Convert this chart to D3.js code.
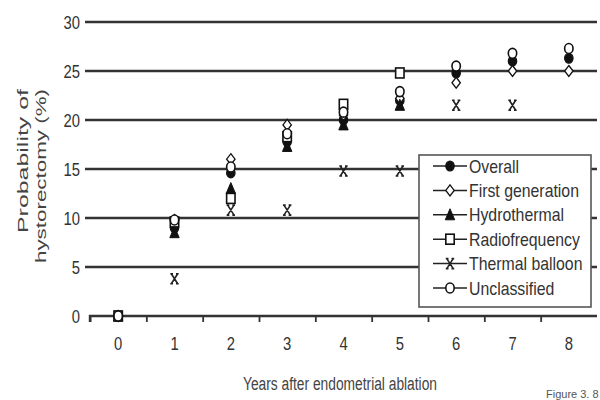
<!DOCTYPE html>
<html><head><meta charset="utf-8">
<script src="https://cdn.jsdelivr.net/npm/d3@7"></script>
<style>body{margin:0;background:#fff}</style>
</head><body>
<svg id="c" width="600" height="400"></svg>
<script>
const years = [0,1,2,3,4,5,6,7,8];
const yTicks = [0,5,10,15,20,25,30];
const seriesNames = ["Overall","First generation","Hydrothermal","Radiofrequency","Thermal balloon","Unclassified"];
const overall      = [0, 9.0, 14.6, 17.8, 20.0, 22.0, 24.8, 26.0, 26.3];
const firstGen     = [0, 9.8, 16.0, 19.5, 20.5, 22.2, 23.8, 25.0, 25.0];
const hydrothermal = [0, 8.5, 13.0, 17.3, 19.5, 21.5, null, null, null];
const radiofreq    = [0, 9.6, 12.0, 18.3, 21.6, 24.8, null, null, null];
const thermal      = [0, 3.8, 10.8, 10.8, 14.8, 14.8, 21.5, 21.5, null];
const unclassified = [0, 9.8, 15.2, 18.6, 20.8, 22.9, 25.5, 26.8, 27.3];
const allSeries = [overall, firstGen, hydrothermal, radiofreq, thermal, unclassified];
const markerTypes = ["fcircle","diamond","triangle","square","xstar","ocircle"];

const svg = d3.select("#c");
const x = d3.scaleLinear().domain([-0.5, 8.5]).range([90, 597]);
const y = d3.scaleLinear().domain([0, 30]).range([316, 22]);
const font = "'Liberation Sans',Arial,sans-serif";
const ink = "#333";

// gridlines
svg.append("g").selectAll("line").data(yTicks.filter(d=>d>0)).join("line")
  .attr("x1", 85).attr("x2", 597).attr("y1", d=>y(d)).attr("y2", d=>y(d))
  .attr("stroke", ink).attr("stroke-width", 2.4);

// x axis baseline with ticks between categories
const xAxis = d3.axisBottom(x).tickValues(d3.range(-0.5, 8, 1)).tickSize(6).tickFormat("");
const gx = svg.append("g").attr("transform", `translate(0,${y(0)})`).call(xAxis);
gx.select(".domain").attr("d", `M${x(-0.5)},6V0H597`).attr("stroke", ink).attr("stroke-width", 2.4).attr("fill","none");
gx.selectAll(".tick line").attr("stroke", ink).attr("stroke-width", 1.8);

// x labels (narrow, tall glyphs)
svg.append("g").selectAll("text").data(years).join("text")
  .attr("transform", d=>`translate(${x(d)},350) scale(0.78,1)`).attr("text-anchor","middle")
  .attr("font-family", font).attr("font-size", 19).attr("fill", ink).text(d=>d);

// y labels
svg.append("g").selectAll("text").data(yTicks).join("text")
  .attr("transform", d=>`translate(80,${y(d)+7}) scale(0.78,1)`).attr("text-anchor","end")
  .attr("font-family", font).attr("font-size", 19).attr("fill", ink).text(d=>d);

// axis titles
svg.append("text").attr("transform","translate(28,89) rotate(-90)").attr("text-anchor","end")
  .attr("textLength", 144).attr("lengthAdjust","spacingAndGlyphs")
  .attr("font-family", font).attr("font-size", 15).attr("fill", "#444").text("Probability of");
svg.append("text").attr("transform","translate(46,89) rotate(-90)").attr("text-anchor","end")
  .attr("textLength", 174).attr("lengthAdjust","spacingAndGlyphs")
  .attr("font-family", font).attr("font-size", 15).attr("fill", "#444").text("hystorectomy (%)");
svg.append("text").attr("x", 243).attr("y", 390)
  .attr("textLength", 194).attr("lengthAdjust","spacingAndGlyphs")
  .attr("font-family", font).attr("font-size", 18).attr("fill", "#444").text("Years after endometrial ablation");
svg.append("text").attr("x", 546).attr("y", 398)
  .attr("font-family", font).attr("font-size", 11).attr("fill", "#555").text("Figure 3. 8");

function drawMarker(g, type, cx, cy) {
  const s = 4.2, t = 5;
  if (type === "fcircle") g.append("ellipse").attr("cx",cx).attr("cy",cy).attr("rx",s).attr("ry",t).attr("fill","#111").attr("stroke","#111").attr("stroke-width",1.2);
  else if (type === "ocircle") g.append("ellipse").attr("cx",cx).attr("cy",cy).attr("rx",s).attr("ry",t).attr("fill","#fff").attr("stroke","#111").attr("stroke-width",1.6);
  else if (type === "diamond") g.append("path").attr("d",`M${cx},${cy-t-0.5}L${cx+s},${cy}L${cx},${cy+t+0.5}L${cx-s},${cy}Z`).attr("fill","#fff").attr("stroke","#111").attr("stroke-width",1.3);
  else if (type === "triangle") g.append("path").attr("d",`M${cx},${cy-t-1}L${cx+s+0.5},${cy+t}L${cx-s-0.5},${cy+t}Z`).attr("fill","#111").attr("stroke","#111").attr("stroke-width",1);
  else if (type === "square") g.append("rect").attr("x",cx-s).attr("y",cy-t).attr("width",2*s).attr("height",2*t).attr("fill","#fff").attr("stroke","#111").attr("stroke-width",1.6);
  else if (type === "xstar") g.append("path").attr("d",`M${cx-s+1},${cy-t}L${cx+s-1},${cy+t}M${cx+s-1},${cy-t}L${cx-s+1},${cy+t}M${cx-s},${cy-t}H${cx-1.5}M${cx+1.5},${cy-t}H${cx+s}M${cx-s},${cy+t}H${cx-1.5}M${cx+1.5},${cy+t}H${cx+s}`).attr("fill","none").attr("stroke","#222").attr("stroke-width",1.6);
}

// points
const pts = svg.append("g");
allSeries.forEach((vals, i) => {
  vals.forEach((v, j) => {
    if (v === null) return;
    drawMarker(pts, markerTypes[i], x(years[j]), y(v));
  });
});

// legend
const lg = svg.append("g");
lg.append("rect").attr("x",419).attr("y",155).attr("width",172).attr("height",152)
  .attr("fill","#fff").attr("stroke","#555").attr("stroke-width",1.6);
seriesNames.forEach((name, i) => {
  const ly = 166 + i*24.4;
  lg.append("line").attr("x1",433).attr("x2",467).attr("y1",ly).attr("y2",ly).attr("stroke","#222").attr("stroke-width",1.5);
  drawMarker(lg, markerTypes[i], 450, ly);
  lg.append("text").attr("transform",`translate(469,${ly+6.5}) scale(0.88,1)`).attr("font-family",font).attr("font-size",18)
    .attr("fill","#333").text(name);
});
</script>
</body></html>
